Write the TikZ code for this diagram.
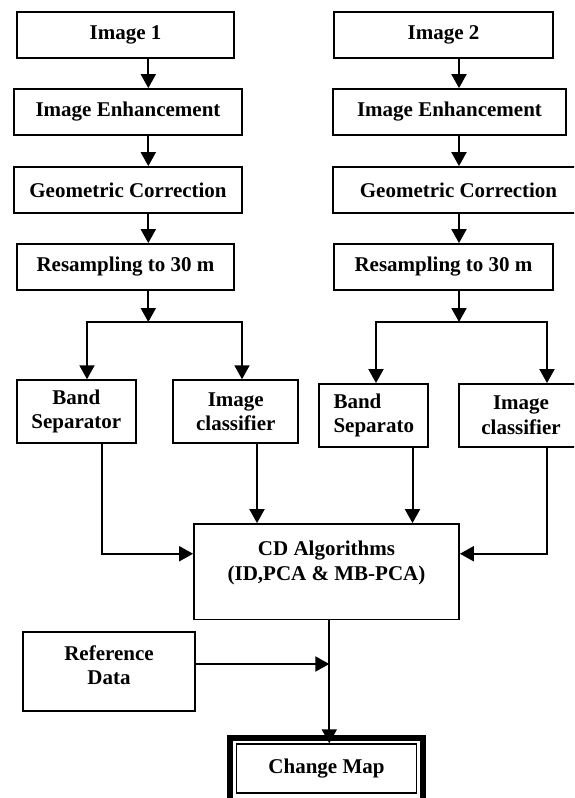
\documentclass[tikz,border=0pt]{standalone}
\usepackage{fontspec}
\setmainfont{Liberation Serif}
\usetikzlibrary{arrows.meta}

\begin{document}
\begin{tikzpicture}[x=1pt, y=-1pt,
  font=\fontsize{21}{24.5}\selectfont\bfseries,
  box/.style={draw=black, rectangle, line width=1.8pt, align=center, minimum height=46pt},
  tall/.style={box, minimum height=62.7pt},
  ar/.style={-{Triangle[length=14pt 0, width=15pt 0]}, line width=2pt}]

\useasboundingbox (0,0) rectangle (574,798);
\clip (0,0) rectangle (574,798);

% --- left chain: image 1 preprocessing
\node[box, minimum width=217pt] (img1) at (125.5,35) {Image 1};
\node[box, minimum width=228pt] (enh1) at (128,112) {Image Enhancement};
\node[box, minimum width=228pt] (geo1) at (128,190) {Geometric Correction};
\node[box, minimum width=217pt] (res1) at (125.5,267) {Resampling to 30 m};

% --- right chain: image 2 preprocessing (runs off the right edge)
\node[box, minimum width=219pt] (img2) at (443.5,35) {Image 2};
\node[box, minimum width=233pt] (enh2) at (449.5,112) {Image Enhancement};
\node[box, minimum width=251pt] (geo2) at (458.5,190) {Geometric Correction};
\node[box, minimum width=219pt] (res2) at (443.5,267) {Resampling to 30 m};

% --- band separation / classification
\node[tall, minimum width=119pt] (band1) at (76.3,411.5) {Band\\Separator};
\node[tall, minimum width=125pt] (cls1) at (235.8,411.5) {Image\\classifier};
\node[tall, minimum width=109pt, align=left] (band2) at (373.8,415.3) {Band\\Separato};
\node[tall, minimum width=124pt] (cls2) at (521,415.3) {Image\\classifier};

% --- change detection and output
\node[box, minimum width=265pt, minimum height=95.5pt, text depth=22pt] (cd) at (326.5,571.75) {CD Algorithms\\(ID,PCA \& MB-PCA)};
\node[box, minimum width=172pt, minimum height=79pt, text depth=13pt] (ref) at (109,671.5) {Reference\\Data};
\node[box, line width=1.5pt, minimum width=180.4pt, minimum height=49pt] (cmap) at (326.5,768.5) {Change Map};
\draw[line width=6pt] ([xshift=-5.5pt, yshift=5.5pt]cmap.north west) rectangle ([xshift=5.5pt, yshift=-12pt]cmap.south east);

\coordinate (lc) at (148.3,0);
\coordinate (rc) at (459,0);
\coordinate (split1) at (148.3,322);
\coordinate (split2) at (459,322);

\foreach \a/\b in {img1/enh1, enh1/geo1, geo1/res1}
  \draw[ar] (\a.south -| lc) -- (\b.north -| lc);
\foreach \a/\b in {img2/enh2, enh2/geo2, geo2/res2}
  \draw[ar] (\a.south -| rc) -- (\b.north -| rc);

% split after resampling
\draw[ar] (res1.south -| lc) -- (split1);
\draw[ar] (res2.south -| rc) -- (split2);
\draw[ar] (split1) -| ([xshift=10.7pt]band1.north);
\draw[ar] (split1) -| ([xshift=6.2pt]cls1.north);
\draw[ar] (split2) -| ([xshift=2.2pt]band2.north);
\draw[ar] (split2) -| ([xshift=26pt]cls2.north);

% everything feeds the CD box
\draw[ar] ([xshift=25.7pt]band1.south) |- ([yshift=18pt]cd.west);
\draw[ar] ([xshift=21.2pt]cls1.south) -- ([xshift=21.2pt]cls1.south |- cd.north);
\draw[ar] ([xshift=38.7pt]band2.south) -- ([xshift=38.7pt]band2.south |- cd.north);
\draw[ar] ([xshift=26pt]cls2.south) |- ([yshift=18pt]cd.east);

\coordinate (mid) at ([xshift=2.8pt]cd.south);
\draw[ar] (mid) -- (mid |- cmap.north);
\draw[ar] ([yshift=7.5pt]ref.east) -- ([yshift=7.5pt]ref.east -| mid);
\end{tikzpicture}
\end{document}
